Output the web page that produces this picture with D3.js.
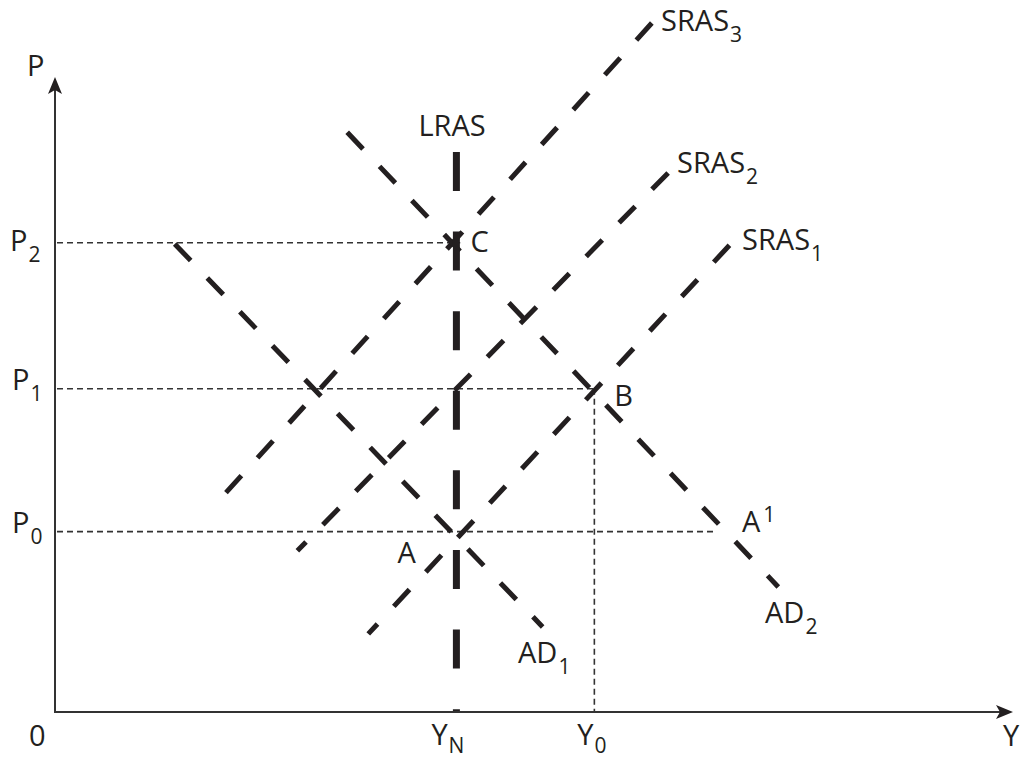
<!DOCTYPE html>
<html>
	<head>
		<meta charset="utf-8">
		<title>AD-AS</title>
		<style>
			body { margin: 0; background: #fff; }
			svg { display: block; }
			text { font-family: "Open Sans", sans-serif; fill: #231f20; }
		</style>
	</head>
	<body>
		<svg></svg>
		<script src="https://d3js.org/d3.v7.min.js"></script>
		<script>
			// canvas
			var _width = 1022
			var _height = 762
			var _svg = d3.select("svg").attr("width", _width).attr("height", _height)

			// levels on the axes (data units, 0..100)
			const priceNames = ["P0", "P1", "P2"]
			const priceLevels = [28.4, 50.9, 73.9]
			const outputNames = ["YN", "Y0"]
			const outputLevels = [41.9, 56.3]
			// where each price guide stops on the Y axis
			const priceGuideEnds = [69.0, 56.3, 42.3]

			// curves: [Y, P] at both ends
			const curveNames = ["SRAS1", "SRAS2", "SRAS3", "AD1", "AD2"]
			const curveStarts = [[70.4, 73.5], [64.0, 84.9], [62.3, 108.5], [12.5, 73.7], [30.5, 91.3]]
			const curveEnds = [[32.7, 12.3], [25.3, 25.4], [16.8, 32.8], [50.9, 13.4], [75.5, 19.7]]
			const lrasRange = [88.2, 0]

			// scales
			var x = d3.scaleLinear().domain([0, 100]).range([55, 1013])
			var y = d3.scaleLinear().domain([0, 100]).range([712, 77])

			var ink = "#231f20"
			var axisColor = "#333"

			// thin guides
			priceLevels.forEach(function (p, i) {
				_svg.append("line")
					.attr("x1", x(0) + 2).attr("x2", x(priceGuideEnds[i]))
					.attr("y1", y(p)).attr("y2", y(p))
					.attr("stroke", axisColor).attr("stroke-width", 1.6)
					.attr("stroke-dasharray", "6,4")
			})
			_svg.append("line")
				.attr("x1", x(outputLevels[1])).attr("x2", x(outputLevels[1]))
				.attr("y1", y(priceLevels[1])).attr("y2", y(0))
				.attr("stroke", axisColor).attr("stroke-width", 1.6)
				.attr("stroke-dasharray", "6,4")

			// curves
			var line = d3.line().x(function (d) { return x(d[0]) }).y(function (d) { return y(d[1]) })
			curveNames.forEach(function (name, i) {
				_svg.append("path")
					.attr("id", name)
					.attr("d", line([curveStarts[i], curveEnds[i]]))
					.attr("fill", "none")
					.attr("stroke", ink)
					.attr("stroke-width", 5)
					.attr("stroke-dasharray", "23,24")
			})

			// LRAS
			_svg.append("path")
				.attr("d", line([[outputLevels[0], lrasRange[0]], [outputLevels[0], lrasRange[1]]]))
				.attr("fill", "none")
				.attr("stroke", ink)
				.attr("stroke-width", 7)
				.attr("stroke-dasharray", "39,40.6")

			// axes
			_svg.append("line")
				.attr("x1", x(0)).attr("y1", y(0)).attr("x2", x(0)).attr("y2", y(100) + 12)
				.attr("stroke", axisColor).attr("stroke-width", 2)
			_svg.append("line")
				.attr("x1", x(0) - 1).attr("y1", y(0)).attr("x2", x(100) - 12).attr("y2", y(0))
				.attr("stroke", axisColor).attr("stroke-width", 2)
			// arrow heads
			var tx = x(0), ty = y(100)
			_svg.append("path")
				.attr("d", "M" + tx + "," + ty + "L" + (tx + 7) + "," + (ty + 17) + "L" + tx + "," + (ty + 13) + "L" + (tx - 7) + "," + (ty + 17) + "Z")
				.attr("fill", ink)
			var rx = x(100), ry = y(0)
			_svg.append("path")
				.attr("d", "M" + rx + "," + ry + "L" + (rx - 17) + "," + (ry - 7) + "L" + (rx - 13) + "," + ry + "L" + (rx - 17) + "," + (ry + 7) + "Z")
				.attr("fill", ink)

			// text helper
			function addLabel(px, py, main, small, sup, drop) {
				var t = _svg.append("text").attr("x", px).attr("y", py).attr("font-size", 29)
				t.append("tspan").text(main)
				if (small) {
					t.append("tspan")
						.attr("font-size", 21)
						.attr("dx", sup ? 3 : 1)
						.attr("dy", sup ? -10 : (drop || 11))
						.text(small)
				}
				return t
			}

			// axis labels
			addLabel(x(0) - 28, y(100) - 1, "P")
			addLabel(x(0) - 26, y(0) + 34, "0")
			addLabel(x(100) - 10, y(0) + 34, "Y")

			// price labels
			addLabel(10, y(priceLevels[2]) + 8, "P", "2")
			addLabel(12, y(priceLevels[1]) + 1, "P", "1")
			addLabel(12, y(priceLevels[0]) + 1, "P", "0")

			// output labels
			addLabel(x(outputLevels[0]) - 25, y(0) + 33, "Y", "N", false, 8)
			addLabel(x(outputLevels[1]) - 17, y(0) + 33, "Y", "0", false, 8)

			// curve labels
			addLabel(x(outputLevels[0]) - 38, 136, "LRAS")
			addLabel(661, 31, "SRAS", "3")
			addLabel(677, 173, "SRAS", "2")
			addLabel(742, 250, "SRAS", "1")
			addLabel(518, 663, "AD", "1")
			addLabel(765, 623, "AD", "2")

			// point labels
			addLabel(x(outputLevels[0]) + 14, y(priceLevels[2]) + 9, "C")
			addLabel(x(outputLevels[1]) + 20, y(priceLevels[1]) + 17, "B")
			addLabel(x(outputLevels[0]) - 59, y(priceLevels[0]) + 31, "A")
			addLabel(x(priceGuideEnds[0]) + 26, y(priceLevels[0]), "A", "1", true)
		</script>
	</body>
</html>
